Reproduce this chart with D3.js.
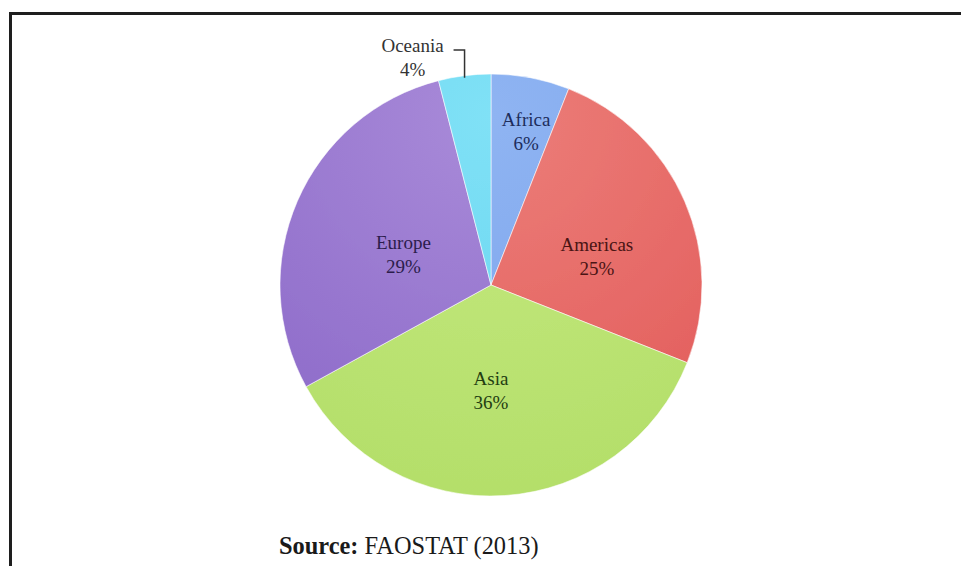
<!DOCTYPE html>
<html>
<head>
<meta charset="utf-8">
<script src="https://cdn.jsdelivr.net/npm/d3@7"></script>
<style>
  html, body { margin: 0; padding: 0; background: #fff; }
  svg { display: block; }
</style>
</head>
<body>
<svg id="chart" width="961" height="566"></svg>
<script>
// Share of world production by region (%)
const regions = ["Africa", "Americas", "Asia", "Europe", "Oceania"];
const shares = [6, 25, 36, 29, 4];
const baseColors = ["#78a1eb", "#e25b5a", "#b3de69", "#8b68c8", "#60d2ee"];
const lightColors = ["#8fb4f2", "#ec7e79", "#c6ea80", "#a98bd9", "#80e1f6"];
const labelColors = ["#1d2d5c", "#4a1414", "#233d12", "#2b1c4c", "#333333"];
const sourceText = "FAOSTAT (2013)";

const svg = d3.select("#chart");
const W = 961, H = 566;
const cx = 491, cy = 285, R = 211;

// Frame (top and left edges)
svg.append("line").attr("x1", 10.5).attr("x2", W).attr("y1", 13.5).attr("y2", 13.5)
  .attr("stroke", "#1e1e1e").attr("stroke-width", 3);
svg.append("line").attr("x1", 10.5).attr("x2", 10.5).attr("y1", 12).attr("y2", H)
  .attr("stroke", "#1e1e1e").attr("stroke-width", 3);

// Per-slice shading: lighter toward the top of the pie (local coordinates of the pie group)
const defs = svg.append("defs");
regions.forEach((r, i) => {
  const g = defs.append("radialGradient")
    .attr("id", "grad" + i)
    .attr("gradientUnits", "userSpaceOnUse")
    .attr("cx", 0).attr("cy", -R * 0.8).attr("r", R * 1.9)
    .attr("fx", 0).attr("fy", -R * 0.8);
  g.append("stop").attr("offset", "0%").attr("stop-color", lightColors[i]);
  g.append("stop").attr("offset", "100%").attr("stop-color", baseColors[i]);
});
defs.append("filter").attr("id", "soft")
  .attr("filterUnits", "userSpaceOnUse")
  .attr("x", -R - 10).attr("y", -R - 10).attr("width", 2 * R + 20).attr("height", 2 * R + 20)
  .append("feGaussianBlur").attr("stdDeviation", 0.6);

const data = regions.map((name, i) => ({ name, value: shares[i], i }));
const pie = d3.pie().value(d => d.value).sort(null);
const arcs = pie(data);
const arc = d3.arc().innerRadius(0).outerRadius(R);

const g = svg.append("g").attr("transform", `translate(${cx},${cy})`);
g.selectAll("path.slice").data(arcs).enter().append("path")
  .attr("class", "slice")
  .attr("d", arc)
  .attr("fill", d => `url(#grad${d.data.i})`)
  .attr("stroke", "rgba(255,255,255,0.55)")
  .attr("stroke-width", 1)
  .attr("filter", "url(#soft)");

// Label placement: radius factor and angular nudge (degrees) from each slice's bisector
const labelPlace = {
  Africa:   { k: 0.745, da: 2.1 },
  Americas: { k: 0.52,  da: 8.1 },
  Asia:     { k: 0.50,  da: 3.6 },
  Europe:   { k: 0.44,  da: -4.0 }
};
const fontFamily = "'Liberation Serif', 'Times New Roman', serif";
const fontSize = 19, lineGap = 24;

arcs.forEach(a => {
  const name = a.data.name;
  let x, y, color = labelColors[a.data.i];
  if (name === "Oceania") {
    // Outside label with a bent leader line
    const edgeAngle = (a.startAngle + a.endAngle) / 2;
    const ex = Math.sin(edgeAngle) * R, ey = -Math.cos(edgeAngle) * R;
    const topY = -R - 24;
    g.append("path")
      .attr("d", `M${ex},${ey + 2}V${topY}H${ex - 11}`)
      .attr("fill", "none").attr("stroke", "#333").attr("stroke-width", 1.5);
    x = ex - 52; y = topY + 1.5;
  } else {
    const p = labelPlace[name];
    const mid = (a.startAngle + a.endAngle) / 2 + p.da * Math.PI / 180;
    const k = p.k * R;
    x = Math.sin(mid) * k;
    y = -Math.cos(mid) * k - 5.5;   // centre the two-line block on the point
  }
  const t = g.append("text")
    .attr("x", x).attr("y", y)
    .attr("text-anchor", "middle")
    .attr("font-family", fontFamily)
    .attr("font-size", fontSize)
    .attr("fill", color);
  t.append("tspan").attr("x", x).attr("y", y).text(name);
  t.append("tspan").attr("x", x).attr("y", y + lineGap).text(a.data.value + "%");
});

// Source note
const src = svg.append("text")
  .attr("x", 279).attr("y", 554)
  .attr("font-family", fontFamily)
  .attr("font-size", 24.4)
  .attr("fill", "#1a1a1a");
src.append("tspan").attr("font-weight", "bold").text("Source:");
src.append("tspan").text(" " + sourceText);
</script>
</body>
</html>
